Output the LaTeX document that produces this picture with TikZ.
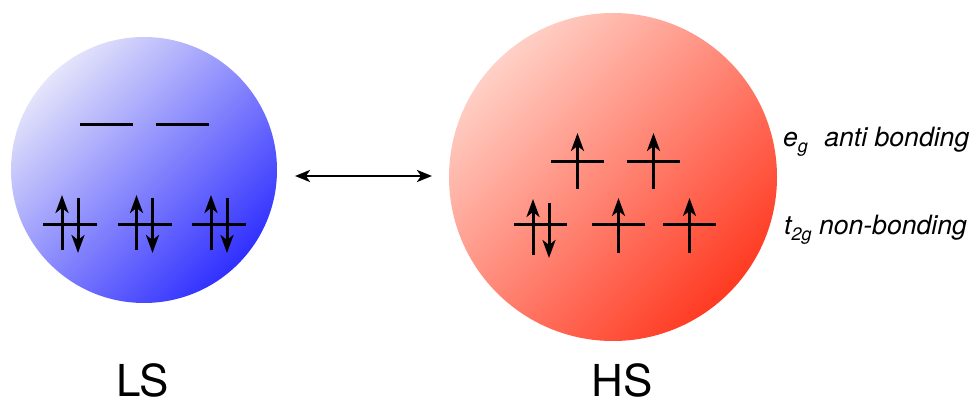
\documentclass[tikz,border=0pt]{standalone}
\usepackage{fontspec}
\setmainfont{TeX Gyre Heros}
\usetikzlibrary{arrows.meta}

\definecolor{lslight}{HTML}{E4E4FB}
\definecolor{lsdark}{HTML}{3030FF}
\definecolor{hslight}{HTML}{FFD0C6}
\definecolor{hsdark}{HTML}{FF3A22}

\tikzset{
  orbital/.style={line width=3pt},
  spin/.style={line width=3pt, -{Stealth[length=18pt,width=13pt,inset=5pt]}},
  swap/.style={line width=2.6pt, {Stealth[length=15pt,width=12pt,inset=4pt]}-{Stealth[length=15pt,width=12pt,inset=4pt]}},
  sphere/.style n args={3}{circle, inner sep=0pt, minimum size=#1,
    left color=#2, right color=#3, shading angle=45},
  state/.style={font=\fontsize{44}{44}\selectfont, anchor=base, inner sep=0pt},
  levellabel/.style={font=\fontsize{26.6}{30}\selectfont\itshape, anchor=base west, inner sep=0pt}
}

\begin{document}
\begin{tikzpicture}[x=1pt,y=1pt]
  \useasboundingbox (0,0) rectangle (975,402);

  % the two spin states
  \node[sphere={266pt}{lslight}{lsdark}] (ls) at (144,232) {};
  \node[sphere={328pt}{hslight}{hsdark}] (hs) at (613,225) {};

  % low spin: empty e_g, filled t_2g
  \draw[orbital] (80,277) -- (133,277);
  \draw[orbital] (156,277) -- (209,277);
  \foreach \c in {70,144.5,219}{
    \draw[orbital] (\c-27,177) -- (\c+27,177);
    \draw[spin] (\c-8,152) -- (\c-8,207);
    \draw[spin] (\c+8,204) -- (\c+8,149);
  }

  % high spin: one electron in each e_g level
  \foreach \c in {577.5,653.5}{
    \draw[orbital] (\c-26.5,240) -- (\c+26.5,240);
    \draw[spin] (\c,213) -- (\c,269);
  }
  % high spin t_2g
  \draw[orbital] (514,177) -- (567,177);
  \draw[spin] (533,147) -- (533,203);
  \draw[spin] (549,199) -- (549,144);
  \foreach \c in {618.5,689.5}{
    \draw[orbital] (\c-26.5,177) -- (\c+26.5,177);
    \draw[spin] (\c,149) -- (\c,204);
  }

  % equilibrium between the states
  \coordinate (sw1) at (295,226);
  \coordinate (sw2) at (432,226);
  \draw[swap] (sw1) -- (sw2);

  % captions
  \node[state] (lslabel) at (142.5,6) {LS};
  \node[state] (hslabel) at (622,6) {HS};

  \node[levellabel] (eg) at (783,255)
    {e\raisebox{-6pt}{\fontsize{18}{18}\selectfont g}\hspace{9pt} anti bonding};
  \node[levellabel] (t2g) at (784,167)
    {t\raisebox{-6pt}{\fontsize{18}{18}\selectfont 2g} non-bonding};
\end{tikzpicture}
\end{document}
